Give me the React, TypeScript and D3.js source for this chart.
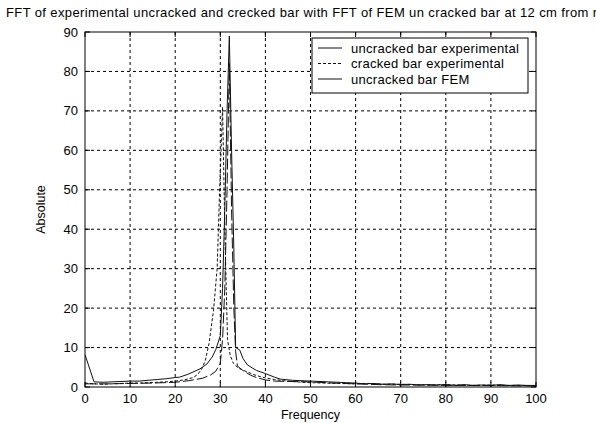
import React from "react";
import * as d3 from "d3";

const titleText = "FFT of experimental uncracked and crecked bar with FFT of FEM un cracked bar at 12 cm from r";
const xTicks = [0, 10, 20, 30, 40, 50, 60, 70, 80, 90, 100];
const yTicks = [0, 10, 20, 30, 40, 50, 60, 70, 80, 90];
const legendLabels = ["uncracked bar experimental", "cracked bar experimental", "uncracked bar FEM"];

const uncrackedExp: [number, number][] = [
  [0, 8.2], [2, 1.3], [4, 1.2], [6, 1.3], [8, 1.4], [10, 1.5], [12, 1.5], [14, 1.7], [16, 1.9], [18, 2.1],
  [20, 2.4], [21, 2.5], [23, 3.3], [25.5, 4.6], [27, 5.8], [28.2, 7.6], [29, 9.5], [30, 13], [30.5, 25], [31, 45],
  [31.5, 70], [32, 89], [32.5, 60], [33, 35], [33.4, 10], [34.3, 9.4], [35, 7.3], [36, 5.6], [38, 4.2], [40, 3.4],
  [42, 2.5], [43.3, 2.0], [46, 1.7], [50, 1.5], [54, 1.3], [58, 1.1], [60, 1.0], [62, 0.8], [64, 0.9], [66, 0.7],
  [68, 0.8], [70, 0.6], [72, 0.7], [74, 0.5], [76, 0.6], [78, 0.5], [80, 0.6], [82, 0.4], [84, 0.6], [86, 0.4],
  [88, 0.5], [90, 0.4], [92, 0.6], [94, 0.4], [96, 0.5], [98, 0.4], [100, 0.4],
];

const crackedExp: [number, number][] = [
  [0, 1.0], [2, 0.8], [4, 0.7], [6, 0.8], [8, 0.9], [10, 1.0], [12, 1.0], [14, 1.1], [16, 1.2], [18, 1.3],
  [20, 1.5], [22, 1.8], [24, 2.4], [25, 3.2], [26, 4.8], [26.7, 6.8], [27.5, 11], [28.5, 19.5], [29.3, 30], [29.8, 48],
  [30.5, 71], [31, 40], [31.6, 12], [32.2, 8], [32.9, 6], [34, 4.8], [36, 3.8], [38, 2.9], [40, 2.3], [42, 1.9],
  [44, 1.6], [46, 1.4], [48, 1.2], [50, 1.1], [53, 1.0], [56, 0.9], [60, 0.8], [63, 0.9], [66, 0.7], [70, 0.7],
  [73, 0.6], [76, 0.5], [80, 0.6], [83, 0.5], [86, 0.4], [90, 0.5], [93, 0.4], [96, 0.4], [100, 0.3],
];

const uncrackedFEM: [number, number][] = [
  [0, 0.8], [5, 0.8], [10, 0.9], [15, 1.0], [20, 1.2], [23, 1.6], [26, 2.2], [27.8, 3], [29, 4], [30, 6],
  [30.5, 12], [31, 25], [31.5, 50], [32, 82], [32.5, 45], [33, 20], [33.4, 9], [33.8, 5.3], [35, 4.2], [36.7, 3],
  [38, 2.4], [40, 1.8], [42, 1.5], [45, 1.4], [50, 1.3], [55, 1.0], [60, 0.8], [65, 0.6], [70, 0.5], [75, 0.5],
  [80, 0.4], [85, 0.4], [90, 0.4], [95, 0.3], [100, 0.3],
];

const W = 596;
const H = 423;
const M = { left: 85, right: 536, top: 32, bottom: 387 };
const FONT = "Liberation Sans, Arial, sans-serif";

export default function App() {
  const x = d3.scaleLinear().domain([0, 100]).range([M.left, M.right]);
  const y = d3.scaleLinear().domain([0, 90]).range([M.bottom, M.top]);
  const line = d3
    .line<[number, number]>()
    .x((d) => x(d[0]))
    .y((d) => y(d[1]));

  const series = [
    { data: uncrackedExp, dash: undefined as string | undefined, color: "#111" },
    { data: crackedExp, dash: "3,2", color: "#111" },
    { data: uncrackedFEM, dash: "11,3", color: "#111" },
  ];

  const legX = 312;
  const legY = 38;
  const legW = 216;
  const legH = 55;
  const rowYs = [48, 63.5, 79];

  return (
    <svg
      width={W}
      height={H}
      style={{ position: "absolute", left: 0, top: 0, background: "#fff" }}
      fontFamily={FONT}
    >
      <rect x={0} y={0} width={W} height={H} fill="#fff" />
      <text x={6} y={17} fontSize={13} letterSpacing={0.38} fill="#000">
        {titleText}
      </text>

      {/* grid */}
      {xTicks.slice(1, -1).map((t) => (
        <line key={"gx" + t} x1={x(t)} x2={x(t)} y1={M.top} y2={M.bottom} stroke="#000" strokeWidth={1} strokeDasharray="3,3" />
      ))}
      {yTicks.slice(1, -1).map((t) => (
        <line key={"gy" + t} x1={M.left} x2={M.right} y1={y(t)} y2={y(t)} stroke="#000" strokeWidth={1} strokeDasharray="3,3" />
      ))}

      {/* series */}
      <g clipPath="url(#clip)">
        {series.map((s, i) => (
          <path key={i} d={line(s.data) || ""} fill="none" stroke={s.color} strokeWidth={1} strokeDasharray={s.dash} />
        ))}
      </g>
      <defs>
        <clipPath id="clip">
          <rect x={M.left} y={M.top} width={M.right - M.left} height={M.bottom - M.top} />
        </clipPath>
      </defs>

      {/* axes box */}
      <rect x={M.left} y={M.top} width={M.right - M.left} height={M.bottom - M.top} fill="none" stroke="#000" strokeWidth={1} />
      {xTicks.map((t) => (
        <g key={"tx" + t}>
          <line x1={x(t)} x2={x(t)} y1={M.bottom} y2={M.bottom - 5} stroke="#000" />
          <line x1={x(t)} x2={x(t)} y1={M.top} y2={M.top + 5} stroke="#000" />
          <text x={x(t)} y={403} fontSize={13} textAnchor="middle" fill="#000">
            {t}
          </text>
        </g>
      ))}
      {yTicks.map((t) => (
        <g key={"ty" + t}>
          <line x1={M.left} x2={M.left + 5} y1={y(t)} y2={y(t)} stroke="#000" />
          <line x1={M.right} x2={M.right - 5} y1={y(t)} y2={y(t)} stroke="#000" />
          <text x={M.left - 7} y={y(t) + 4.5} fontSize={13} textAnchor="end" fill="#000">
            {t}
          </text>
        </g>
      ))}

      <text x={(M.left + M.right) / 2} y={419} fontSize={12.5} textAnchor="middle" fill="#000">
        Frequency
      </text>
      <text transform={`translate(45,${(M.top + M.bottom) / 2}) rotate(-90)`} fontSize={12.5} textAnchor="middle" fill="#000">
        Absolute
      </text>

      {/* legend */}
      <rect x={legX} y={legY} width={legW} height={legH} fill="#fff" stroke="#000" strokeWidth={1} />
      {legendLabels.map((lab, i) => (
        <g key={lab}>
          <line x1={legX + 6} x2={legX + 30} y1={rowYs[i]} y2={rowYs[i]} stroke="#111" strokeDasharray={series[i].dash === "3,2" ? "3,2" : undefined} />
          <text x={legX + 39} y={rowYs[i] + 4.5} fontSize={13} letterSpacing={0.3} fill="#000">
            {lab}
          </text>
        </g>
      ))}
    </svg>
  );
}
